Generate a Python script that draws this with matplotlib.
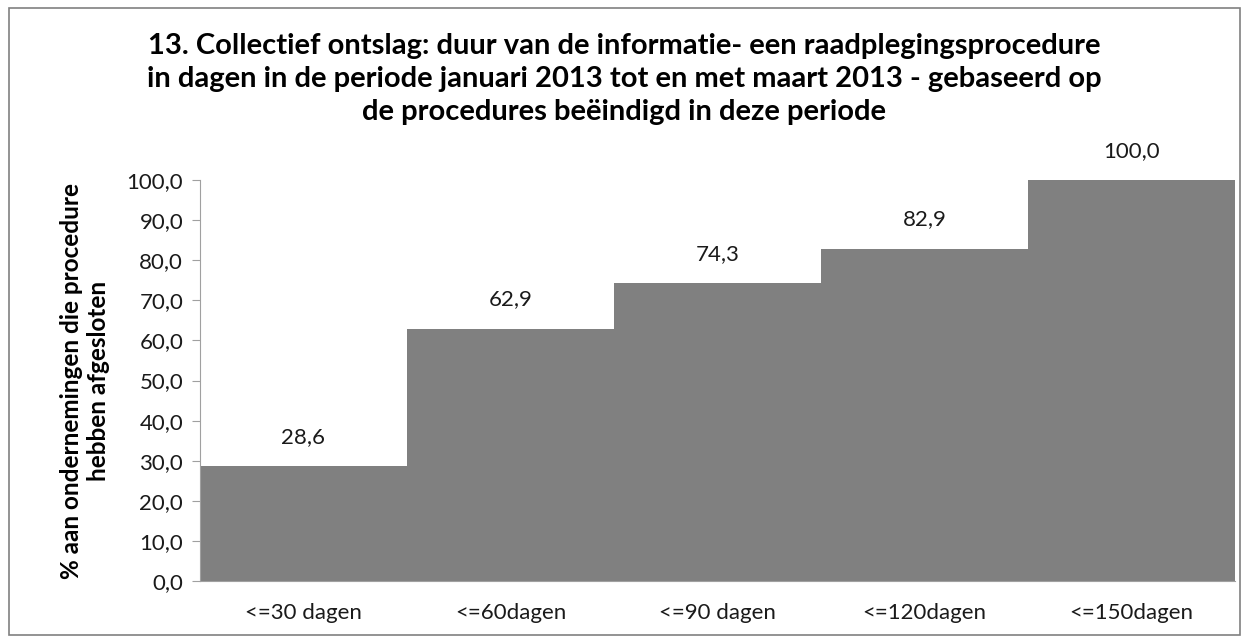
import matplotlib.pyplot as plt
import numpy as np

plt.rcParams['font.family'] = ['Lato', 'DejaVu Sans']

categories = ['<=30 dagen', '<=60dagen', '<=90 dagen', '<=120dagen', '<=150dagen']
values = [28.6, 62.9, 74.3, 82.9, 100.0]
yticks = np.arange(0, 101, 10)

fig = plt.figure(figsize=(12.49, 6.43), dpi=100)
ax = fig.add_axes([0.160, 0.0964, 0.829, 0.6236])

x = np.arange(len(categories))
ax.bar(x, values, width=1.0, color='#808080')
for xi, v in zip(x, values):
    ax.text(xi, v + 7.3, f'{v:.1f}'.replace('.', ','), ha='center', va='center',
            fontsize=16, color='#1a1a1a')

ax.set_xlim(-0.5, len(categories) - 0.5)
ax.set_ylim(0, 100)
ax.set_yticks(yticks)
ax.set_yticklabels([f'{t:.1f}'.replace('.', ',') for t in yticks], fontsize=16, color='#1a1a1a')
ax.set_xticks(x)
ax.set_xticklabels(categories, fontsize=16, color='#1a1a1a')
ax.tick_params(axis='x', length=0, pad=16)
ax.tick_params(axis='y', length=6, color='#a0a0a0', pad=6)
for s in ['top', 'right']:
    ax.spines[s].set_visible(False)
for s in ['left', 'bottom']:
    ax.spines[s].set_color('#a0a0a0')

ax.set_ylabel('% aan ondernemingen die procedure\nhebben afgesloten', fontsize=17.5,
              fontweight='bold', labelpad=12, linespacing=1.2)

fig.text(0.5, 0.877,
         '13. Collectief ontslag: duur van de informatie- een raadplegingsprocedure\n'
         'in dagen in de periode januari 2013 tot en met maart 2013 - gebaseerd op\n'
         'de procedures beëindigd in deze periode',
         ha='center', va='center', fontsize=21, fontweight='bold', linespacing=1.33)

border = plt.Rectangle((0.007, 0.012), 0.986, 0.976, transform=fig.transFigure,
                       fill=False, edgecolor='#808080', linewidth=1.2)
fig.patches.append(border)

fig.savefig('out.png', dpi=100)
